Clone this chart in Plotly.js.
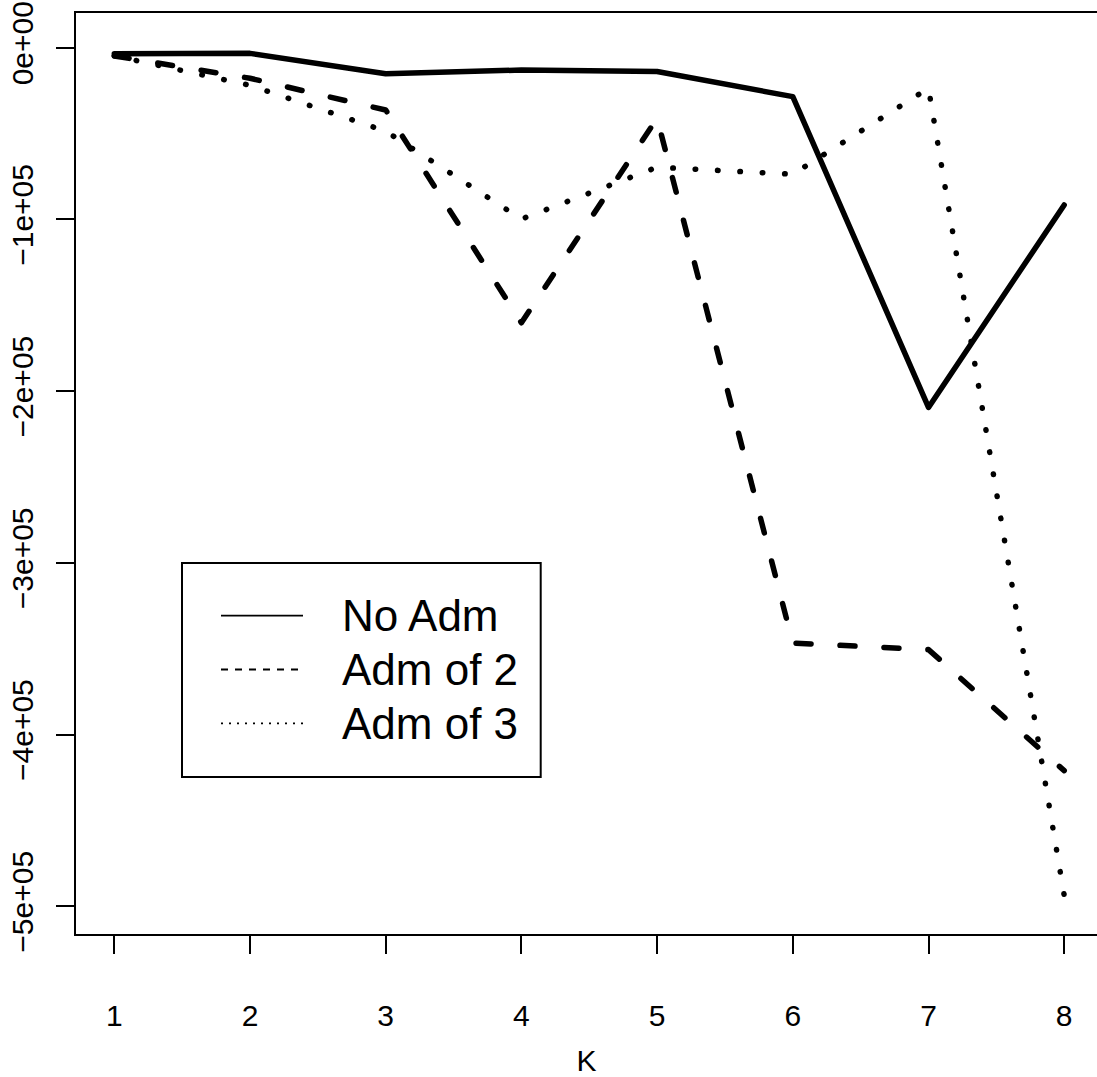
<!DOCTYPE html>
<html>
<head>
<meta charset="utf-8">
<script src="https://cdn.plot.ly/plotly-3.0.1.min.js"></script>
<style>
  html, body { margin: 0; padding: 0; background: #ffffff; }
  #chart { width: 1097px; height: 1077px; }
</style>
</head>
<body>
<div id="chart"></div>
<script>
// ---- data ----
const K = [1, 2, 3, 4, 5, 6, 7, 8];
const noAdm = [-3500, -3300, -15200, -13000, -13900, -28500, -209500, -91600];
const admOf2 = [-4800, -17800, -36300, -160200, -41100, -346700, -350500, -421000];
const admOf3 = [-4700, -21900, -48600, -99800, -69600, -73700, -23600, -493600];
const seriesNames = ["No Adm", "Adm of 2", "Adm of 3"];
const xTickVals = [1, 2, 3, 4, 5, 6, 7, 8];
const xTickText = ["1", "2", "3", "4", "5", "6", "7", "8"];
const yTickVals = [0, -100000, -200000, -300000, -400000, -500000];
const yTickText = ["0e+00", "\u22121e+05", "\u22122e+05", "\u22123e+05", "\u22124e+05", "\u22125e+05"];

const FONT = "Liberation Sans, Arial, Helvetica, sans-serif";
const TICKSIZE = 30;

const traces = [
  { x: K, y: noAdm, name: seriesNames[0], mode: "lines",
    line: { color: "#000000", width: 5.5, dash: "solid" } },
  { x: K, y: admOf2, name: seriesNames[1], mode: "lines",
    line: { color: "#000000", width: 5.5, dash: "15px,29px" } },
  { x: K, y: admOf3, name: seriesNames[2], mode: "lines",
    line: { color: "#000000", width: 5.5, dash: "0.5px,21.9px" } }
];

// legend drawn as box + sample lines + text (paper coordinates)
const W = 1097, H = 1077;
const mL = 76, mR = 0, mT = 13, mB = 143;
const pw = W - mL - mR, ph = H - mT - mB;
function px(x) { return (x - mL) / pw; }
function py(y) { return 1 - (y - mT) / ph; }

const legRows = [615.7, 669.5, 723.3];
const legDash = ["solid", "7px,7px", "2px,6px"];
const shapes = [
  { type: "rect", xref: "paper", yref: "paper",
    x0: px(182), x1: px(540.7), y0: py(777), y1: py(563),
    line: { color: "#000000", width: 2 }, fillcolor: "rgba(255,255,255,1)", layer: "above" }
];
const annotations = [];
seriesNames.forEach((nm, i) => {
  shapes.push({ type: "line", xref: "paper", yref: "paper",
    x0: px(221), x1: px(303), y0: py(legRows[i]), y1: py(legRows[i]),
    line: { color: "#000000", width: 1.8, dash: legDash[i] }, layer: "above" });
  annotations.push({ xref: "paper", yref: "paper", x: px(339.5), y: py(legRows[i]),
    xanchor: "left", yanchor: "middle", showarrow: false, text: nm,
    font: { family: FONT, size: 44, color: "#000000" } });
});

const layout = {
  width: W, height: H,
  margin: { l: mL, r: mR, t: mT, b: mB, pad: 0 },
  paper_bgcolor: "#ffffff", plot_bgcolor: "#ffffff",
  showlegend: false,
  font: { family: FONT, size: TICKSIZE, color: "#000000" },
  xaxis: {
    range: [0.7178, 8.2417], autorange: false,
    tickmode: "array", tickvals: xTickVals, ticktext: xTickText,
    ticks: "outside", ticklen: 18, tickwidth: 2, tickcolor: "#000000",
    ticklabelstandoff: 36,
    showline: true, linecolor: "#000000", linewidth: 2, mirror: true,
    showgrid: false, zeroline: false,
    tickfont: { family: FONT, size: TICKSIZE, color: "#000000" },
    title: { text: "K", standoff: 19, font: { family: FONT, size: TICKSIZE, color: "#000000" } },
    automargin: false
  },
  yaxis: {
    range: [-516130, 20207], autorange: false,
    tickmode: "array", tickvals: yTickVals, ticktext: yTickText,
    ticks: "outside", ticklen: 18, tickwidth: 2, tickcolor: "#000000",
    ticklabelstandoff: 11,
    tickangle: -90,
    showline: true, linecolor: "#000000", linewidth: 2, mirror: false,
    showgrid: false, zeroline: false,
    tickfont: { family: FONT, size: TICKSIZE, color: "#000000" },
    automargin: false
  },
  shapes: shapes,
  annotations: annotations
};

Plotly.newPlot("chart", traces, layout, { displayModeBar: false, staticPlot: true }).then(() => {
  document.querySelectorAll(".scatterlayer path.js-line").forEach(p => {
    p.style.strokeLinecap = "round";
    p.style.strokeLinejoin = "round";
  });
});
</script>
</body>
</html>
